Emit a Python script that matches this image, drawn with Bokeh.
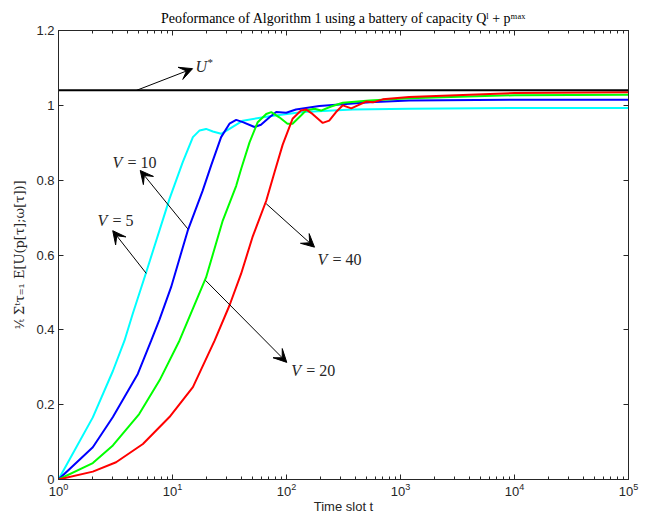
from bokeh.plotting import figure
from bokeh.models import (LogAxis, LinearAxis, FixedTicker, Arrow, VeeHead, Label,
                          CustomJSTickFormatter)
from bokeh.embed import file_html
from bokeh.resources import INLINE

# ---------------- data ----------------
t_v5 = [1, 2, 3, 3.79, 4.48, 5.88, 9.41, 12.3, 15.1, 17.3, 19.7, 22.6, 26.7, 31.6, 41.4, 71,
        139, 381, 1190, 1e4, 1e5]
u_v5 = [0, 0.166, 0.29, 0.371, 0.443, 0.554, 0.750, 0.848, 0.915, 0.933, 0.937, 0.930, 0.924,
        0.937, 0.959, 0.971, 0.982, 0.989, 0.991, 0.993, 0.993]

t_v10 = [1, 2, 3, 4.96, 6.5, 7.7, 9.72, 13.6, 18.4, 21.8, 26.7, 31.6, 36.2, 41.4, 52.4, 59.7,
         71, 81.2, 99.5, 121, 194, 535, 1190, 1e4, 1e5]
u_v10 = [0, 0.086, 0.167, 0.282, 0.371, 0.428, 0.514, 0.665, 0.772, 0.839, 0.915, 0.951, 0.961,
         0.955, 0.942, 0.948, 0.968, 0.982, 0.980, 0.989, 0.998, 1.008, 1.013, 1.015, 1.015]

t_v20 = [1, 2, 3, 5.1, 7.7, 11.5, 19.7, 27.6, 36.2, 40, 47.4, 55.9, 66.4, 73.5, 86.5, 102, 113,
         134, 148, 176, 201, 246, 312, 535, 1190, 1e4, 1e5]
u_v20 = [0, 0.044, 0.091, 0.175, 0.265, 0.371, 0.54, 0.692, 0.785, 0.830, 0.901, 0.955, 0.977,
         0.982, 0.968, 0.951, 0.951, 0.973, 0.986, 0.991, 0.986, 0.997, 1.007, 1.013, 1.019,
         1.027, 1.028]

t_v40 = [1, 2, 3.2, 5.5, 9.4, 15.1, 23.4, 31.6, 40, 50.6, 66.4, 78.5, 92.6, 113, 134, 148, 169,
         208, 237, 272, 312, 370, 422, 499, 574, 700, 1190, 1e4, 1e5]
u_v40 = [0, 0.021, 0.046, 0.095, 0.167, 0.247, 0.371, 0.465, 0.55, 0.65, 0.745, 0.821, 0.895,
         0.964, 0.986, 0.989, 0.977, 0.953, 0.959, 0.982, 1.0, 0.992, 1.0, 1.010, 1.008, 1.016,
         1.022, 1.033, 1.035]

u_star = 1.04

x_major = [1, 10, 100, 1000, 10000, 100000]
x_minor = [m * d for d in [1, 10, 100, 1000, 10000] for m in range(2, 10)]
y_major = [0, 0.2, 0.4, 0.6, 0.8, 1.0, 1.2]

# annotations: (label, x_start, y_start, x_end, y_end, text_x, text_y)
ann_u = ("U", 4.83, 1.04, 15.0, 1.098, 15.9, 1.104)
ann_v10 = ("= 10", 13.6, 0.670, 5.21, 0.826, 2.98, 0.848)
ann_v5 = ("= 5", 5.88, 0.551, 2.99, 0.665, 2.20, 0.692)
ann_v40 = ("= 40", 66.4, 0.737, 176, 0.621, 187, 0.588)
ann_v20 = ("= 20", 19.5, 0.532, 100.6, 0.313, 110, 0.291)

# ---------------- figure ----------------
AX = "#262626"
p = figure(x_axis_type="log", x_range=(1, 1e5), y_range=(0, 1.2),
           frame_width=570, frame_height=449,
           min_border_left=58, min_border_right=17, min_border_top=30, min_border_bottom=29,
           output_backend="svg", toolbar_location=None,
           title="Peoformance of Algorithm 1 using a battery of capacity Qˡ + pᵐᵃˣ")
p.title.align = "center"
p.title.text_font = "Liberation Serif"
p.title.text_font_style = "normal"
p.title.text_font_size = "14px"
p.title.text_color = "black"
p.title.standoff = 10
p.xgrid.visible = False
p.ygrid.visible = False
p.outline_line_color = AX
p.outline_line_width = 1

bottom = p.below[0]
left = p.left[0]

xt = FixedTicker(ticks=x_major, minor_ticks=x_minor)
yt = FixedTicker(ticks=y_major, minor_ticks=[])
bottom.ticker = xt
left.ticker = yt
left.formatter = CustomJSTickFormatter(code="return String(tick);")

blank = CustomJSTickFormatter(code="return '';")
top = LogAxis(ticker=xt, formatter=blank)
right = LinearAxis(ticker=yt, formatter=blank)
p.add_layout(top, "above")
p.add_layout(right, "right")

for ax in [bottom, left, top, right]:
    ax.axis_line_color = AX
    ax.major_tick_line_color = AX
    ax.minor_tick_line_color = AX
    ax.major_tick_in = 5
    ax.major_tick_out = 0
    ax.minor_tick_in = 3
    ax.minor_tick_out = 0
    ax.major_label_text_color = AX
    ax.major_label_text_font = "Liberation Sans"
    ax.major_label_text_font_size = "13px"
for ax in [top, right]:
    ax.major_label_standoff = 0
    ax.major_label_text_font_size = "1px"

bottom.major_label_standoff = 3
left.major_label_standoff = 4
bottom.axis_label = "Time slot t"
bottom.axis_label_standoff = 0
bottom.axis_label_text_font = "Liberation Sans"
bottom.axis_label_text_font_style = "normal"
bottom.axis_label_text_font_size = "13px"
bottom.axis_label_text_color = AX
left.axis_label = "¹⁄ₜ Σᵗτ₌₁ E[U(p[τ];ω[τ])]"
left.axis_label_standoff = 6
left.axis_label_text_font = "DejaVu Serif"
left.axis_label_text_font_style = "normal"
left.axis_label_text_font_size = "13px"
left.axis_label_text_color = AX

p.line(t_v5, u_v5, color="#00FFFF", line_width=2)
p.line(t_v10, u_v10, color="#0000FF", line_width=2)
p.line(t_v20, u_v20, color="#00FF00", line_width=2)
p.line(t_v40, u_v40, color="#FF0000", line_width=2)
p.line([1, 1e5], [u_star, u_star], color="black", line_width=2)

for (txt, xs, ys, xe, ye, tx, ty) in [ann_u, ann_v10, ann_v5, ann_v40, ann_v20]:
    p.add_layout(Arrow(x_start=xs, y_start=ys, x_end=xe, y_end=ye, line_width=1,
                       line_color="black",
                       end=VeeHead(size=13, fill_color="black", line_color="black")))
    if txt == "U":
        p.add_layout(Label(x=tx, y=ty, text="U", text_font="Liberation Serif",
                           text_font_style="italic", text_font_size="16px",
                           text_align="left", text_baseline="middle", text_color="#262626"))
        p.add_layout(Label(x=tx, y=ty, x_offset=12, y_offset=4, text="*",
                           text_font="Liberation Serif", text_font_size="11px",
                           text_align="left", text_baseline="middle", text_color="#262626"))
    else:
        p.add_layout(Label(x=tx, y=ty, text="V", text_font="Liberation Serif",
                           text_font_style="italic", text_font_size="16px",
                           text_align="left", text_baseline="middle", text_color="#262626"))
        p.add_layout(Label(x=tx, y=ty, x_offset=15, text=txt, text_font="Liberation Serif",
                           text_font_size="16px",
                           text_align="left", text_baseline="middle", text_color="#262626"))

open("out.html", "w").write(file_html(p, INLINE))
